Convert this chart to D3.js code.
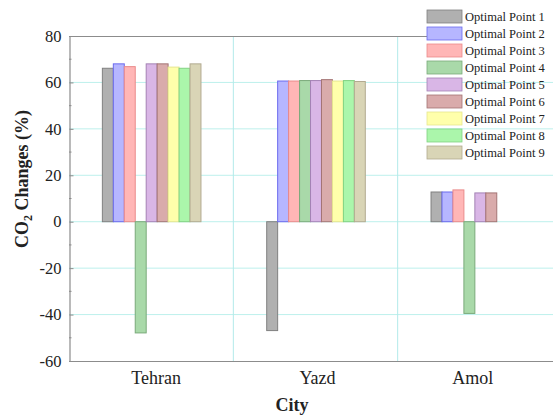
<!DOCTYPE html>
<html>
<head>
<meta charset="utf-8">
<script src="https://cdn.jsdelivr.net/npm/d3@7/dist/d3.min.js"></script>
<style>
  html, body { margin: 0; padding: 0; background: #fff; }
  svg { display: block; font-family: "Liberation Serif", "Times New Roman", serif; }
</style>
</head>
<body>
<svg id="chart" width="553" height="416"></svg>
<script>
// Cities on the x axis
const cities = ["Tehran", "Yazd", "Amol"];

// CO2 change (%) per optimal point, one value per city
const seriesNames = [
  "Optimal Point 1", "Optimal Point 2", "Optimal Point 3",
  "Optimal Point 4", "Optimal Point 5", "Optimal Point 6",
  "Optimal Point 7", "Optimal Point 8", "Optimal Point 9"
];
const op1 = [66.1, -46.9, 12.8];
const op2 = [68.0, 60.6, 12.8];
const op3 = [66.8, 60.6, 13.7];
const op4 = [-47.9, 60.8, -39.5];
const op5 = [68.0, 60.8, 12.4];
const op6 = [68.0, 61.2, 12.4];
const op7 = [66.6, 60.6, 0];
const op8 = [66.1, 60.8, 0];
const op9 = [68.0, 60.4, 0];
const seriesValues = [op1, op2, op3, op4, op5, op6, op7, op8, op9];

// Y axis ticks
const yTicks = [-60, -40, -20, 0, 20, 40, 60, 80];

// Fill / outline per series
const fills   = ["#b0b0b0", "#b6b6ff", "#ffb6b6", "#a9d9a9", "#d9b6e6", "#d9abab", "#ffffab", "#abf6ab", "#d9d5b6"];
const strokes = ["#808080", "#6a6aee", "#ea8a8a", "#7aaa7a", "#a482b4", "#a47474", "#e6e690", "#82d282", "#b2aa90"];

const svg = d3.select("#chart");
const plotLeft = 69, plotTop = 36, plotBottom = 361, plotRight = 562;

const y = d3.scaleLinear().domain([-60, 80]).range([plotBottom, plotTop]);
const x0 = d3.scaleBand().domain(cities).range([plotLeft, plotRight]).padding(0);
const bw = x0.bandwidth();
const x1 = d3.scaleBand().domain(seriesNames).range([bw * 0.2, bw * 0.8]).padding(0);

// Horizontal grid lines
svg.append("g").selectAll("line")
  .data(yTicks.filter(t => t > -60 && t < 80))
  .join("line")
  .attr("x1", plotLeft).attr("x2", 553)
  .attr("y1", d => y(d)).attr("y2", d => y(d))
  .attr("stroke", "#bdf0ec").attr("stroke-width", 1);

// Vertical separators between cities
svg.append("g").selectAll("line")
  .data(cities.slice(1))
  .join("line")
  .attr("x1", d => x0(d)).attr("x2", d => x0(d))
  .attr("y1", plotTop).attr("y2", plotBottom)
  .attr("stroke", "#b2eaea").attr("stroke-width", 1);

// Bars
const groups = svg.append("g").selectAll("g")
  .data(cities)
  .join("g")
  .attr("transform", d => `translate(${x0(d)},0)`);

groups.selectAll("rect")
  .data((c, ci) => seriesNames.map((s, si) => ({ s, si, v: seriesValues[si][ci] })).filter(d => d.v !== 0))
  .join("rect")
  .attr("x", d => x1(d.s) + 0.5)
  .attr("width", x1.bandwidth())
  .attr("y", d => y(Math.max(0, d.v)))
  .attr("height", d => Math.abs(y(d.v) - y(0)))
  .attr("fill", d => fills[d.si])
  .attr("stroke", d => strokes[d.si])
  .attr("stroke-width", 1);

// Frame lines
svg.append("line").attr("x1", plotLeft).attr("x2", 462).attr("y1", plotTop + 0.5).attr("y2", plotTop + 0.5)
  .attr("stroke", "#8c8c8c").attr("stroke-width", 1.2);
svg.append("line").attr("x1", plotLeft).attr("x2", 553).attr("y1", plotBottom + 0.5).attr("y2", plotBottom + 0.5)
  .attr("stroke", "#8c8c8c").attr("stroke-width", 1.2);

// Left axis (hyphen-minus labels)
const yAxis = d3.axisLeft(y).tickValues(yTicks).tickFormat(d => String(d)).tickSize(-4).tickPadding(8);
const ag = svg.append("g").attr("transform", `translate(${plotLeft + 0.5},0)`).call(yAxis);
ag.select(".domain").attr("stroke", "#8c8c8c").attr("stroke-width", 1.2);
ag.selectAll(".tick line").attr("stroke", "#8c8c8c");
ag.selectAll(".tick text")
  .attr("font-family", "Liberation Serif").attr("font-size", 16.5).attr("fill", "#222");
// Minor ticks
svg.append("g").selectAll("line")
  .data(d3.range(-50, 80, 20))
  .join("line")
  .attr("x1", plotLeft).attr("x2", plotLeft + 2.5)
  .attr("y1", d => y(d)).attr("y2", d => y(d))
  .attr("stroke", "#8c8c8c");

// City labels
svg.append("g").selectAll("text")
  .data(cities)
  .join("text")
  .attr("x", d => x0(d) + bw / 2 + (d === "Tehran" ? 5 : d === "Amol" ? -7 : 2))
  .attr("y", 384)
  .attr("text-anchor", "middle")
  .attr("font-size", 18).attr("fill", "#222")
  .text(d => d);

// Axis titles
svg.append("text")
  .attr("x", 292).attr("y", 411)
  .attr("text-anchor", "middle")
  .attr("font-size", 18).attr("font-weight", "bold").attr("fill", "#222")
  .text("City");

const yt = svg.append("text")
  .attr("transform", "translate(28,179) rotate(-90)")
  .attr("text-anchor", "middle")
  .attr("font-size", 18).attr("font-weight", "bold").attr("fill", "#222");
yt.append("tspan").text("CO");
yt.append("tspan").attr("font-size", 12).attr("dy", 4).text("2");
yt.append("tspan").attr("dy", -4).text(" Changes (%)");

// Legend
const lg = svg.append("g").selectAll("g")
  .data(seriesNames)
  .join("g")
  .attr("transform", (d, i) => `translate(427,${10 + i * 17})`);
lg.append("rect")
  .attr("width", 35).attr("height", 13)
  .attr("fill", (d, i) => fills[i])
  .attr("stroke", (d, i) => strokes[i]).attr("stroke-width", 0.8);
lg.append("text")
  .attr("x", 38).attr("y", 11)
  .attr("font-size", 12.5).attr("fill", "#222")
  .text(d => d);
</script>
</body>
</html>
